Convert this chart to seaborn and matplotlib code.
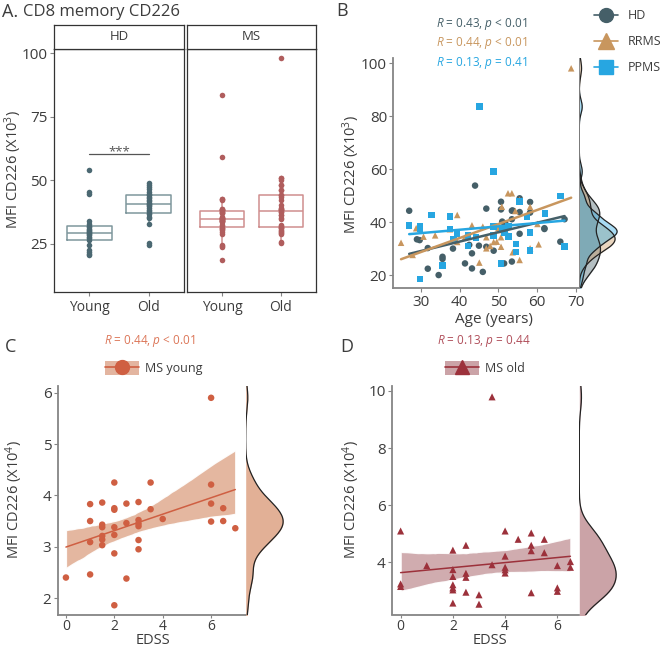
import numpy as np
import pandas as pd
import matplotlib
matplotlib.use('Agg')
import matplotlib.pyplot as plt
from matplotlib.lines import Line2D
from matplotlib.patches import Patch
import seaborn as sns

# ---- panel A : MFI (x10^3) per group / age class
hd_young = [54.0, 45.5, 44.5, 33.8, 33.0, 32.2, 31.5, 31.0, 30.5, 30.0, 29.6, 29.2, 28.8,
            28.3, 27.8, 27.2, 26.5, 24.5, 22.5, 21.8, 21.2, 20.6]
hd_old = [49.0, 48.2, 47.4, 46.5, 45.5, 44.8, 44.2, 43.6, 43.0, 42.4, 41.8, 41.2, 40.8,
          40.3, 39.7, 39.0, 38.4, 37.8, 37.2, 36.8, 35.5, 35.0, 32.8, 25.2, 24.6]
ms_young_extra = [83.5]  # MS young without EDSS

# ---- panel B : age vs MFI (x10^3)
hd_age = [27.0, 29.0, 29.7, 31.8, 31.8, 34.6, 35.6, 35.6, 38.3, 41.4, 42.5, 43.2, 43.2, 44.0,
          45.0, 46.0, 46.9, 46.9, 48.8, 50.7, 50.7, 51.0, 51.5, 51.8, 53.5, 53.5, 53.5, 53.7,
          55.5, 55.5, 55.5, 58.2, 58.2, 61.9, 61.9, 66.0, 67.1]
hd_mfi = [44.3, 33.5, 33.2, 30.2, 22.4, 20.0, 26.9, 26.1, 30.0, 24.4, 31.4, 22.5, 28.2, 53.8,
          31.1, 21.2, 45.1, 30.7, 29.2, 47.7, 44.8, 40.2, 24.4, 39.5, 44.3, 41.1, 25.1, 44.4,
          49.0, 43.8, 35.6, 47.6, 43.6, 37.7, 37.4, 32.6, 41.1]
rrms_age = [24.9, 27.9, 28.8, 30.7, 33.7, 37.5, 39.4, 39.4, 41.3, 43.2, 45.1, 46.0, 46.9, 46.9,
            47.9, 48.8, 49.6, 50.0, 50.5, 50.7, 50.7, 50.9, 52.5, 53.5, 52.6, 53.7, 54.4, 55.5,
            55.5, 58.2, 58.2, 60.1, 60.4, 68.8]
rrms_mfi = [32.2, 27.6, 37.7, 34.5, 35.0, 37.3, 42.7, 32.5, 34.1, 38.8, 24.7, 38.3, 34.3, 30.1,
            31.0, 32.5, 32.6, 37.7, 37.0, 34.3, 30.7, 45.8, 50.9, 50.9, 34.9, 28.6, 44.2, 48.4,
            25.7, 45.8, 30.1, 39.3, 31.6, 98.1]
ppms_age = [27.0, 29.8, 29.8, 29.8, 32.8, 35.6, 37.5, 37.5, 38.4, 39.4, 42.2, 42.2, 44.2, 45.1,
            48.8, 48.8, 48.8, 50.7, 51.0, 51.6, 52.6, 52.6, 54.6, 54.6, 55.5, 57.4, 58.2, 58.2,
            62.1, 62.1, 66.0, 67.1]
ppms_mfi = [38.7, 38.4, 37.4, 18.6, 42.6, 23.6, 42.1, 37.4, 33.5, 35.5, 31.0, 35.0, 34.1, 83.6,
            59.1, 38.3, 35.0, 24.4, 37.8, 36.1, 34.5, 38.3, 31.7, 28.8, 47.7, 41.9, 36.1, 29.2,
            43.3, 43.0, 49.9, 30.7]

# ---- panel C : MS young, EDSS vs MFI (x10^4)
ms_young_edss = [0, 1, 1, 1, 1, 1.5, 1.5, 1.5, 1.5, 1.5, 1.5, 2, 2, 2, 2, 2, 2, 2, 2.5, 2.5, 2.5,
                 3, 3, 3, 3, 3, 3, 3.5, 3.5, 4, 6, 6, 6, 6, 6.5, 6.5, 7]
ms_young_mfi = [2.40, 3.83, 3.50, 3.09, 2.46, 3.86, 3.43, 3.38, 3.21, 3.14, 3.03, 4.25, 3.75, 3.72,
                3.38, 3.23, 2.87, 1.86, 3.84, 3.46, 2.38, 3.87, 3.52, 3.45, 3.40, 3.13, 2.95, 4.25,
                3.73, 3.54, 5.90, 4.21, 3.84, 3.49, 3.75, 3.50, 3.36]

# ---- panel D : MS old, EDSS vs MFI (x10^4)
ms_old_edss = [0, 0, 0, 1, 2, 2, 2, 2, 2, 2, 2, 2.5, 2.5, 2.5, 2.5, 3, 3, 3.5, 3.5, 4, 4, 4, 4, 4,
               4.5, 5, 5, 5, 5, 5.5, 5.5, 6, 6, 6, 6.5, 6.5]
ms_old_mfi = [5.10, 3.25, 3.16, 3.89, 4.43, 3.75, 3.51, 3.22, 3.11, 3.04, 2.58, 4.60, 3.62, 3.48,
              2.96, 2.87, 2.54, 9.79, 3.92, 5.10, 4.22, 3.83, 3.74, 3.63, 4.81, 5.03, 4.60, 4.41,
              2.94, 4.81, 4.34, 3.89, 3.11, 2.99, 4.03, 3.83]

HD_C, RRMS_C, PPMS_C = '#455f68', '#c8965e', '#27a6e1'
YOUNG_C, YOUNG_BAND, YOUNG_TXT = '#cf5f42', '#e3b5a0', '#dc7658'
OLD_C, OLD_BAND, OLD_TXT = '#9c313b', '#cba3a7', '#b04e5a'
TXT = '#3c3c3c'
AX_C = '#858585'
TICK_FS = 11
XLAB_FS = 11
YLAB_FS = 10.5

sns.set_style('white')
plt.rcParams['font.family'] = ['Open Sans', 'DejaVu Sans']
plt.rcParams['mathtext.fontset'] = 'custom'
plt.rcParams['mathtext.it'] = 'Open Sans:italic'
plt.rcParams['mathtext.rm'] = 'Open Sans'
plt.rcParams['xtick.color'] = AX_C
plt.rcParams['ytick.color'] = AX_C
plt.rcParams['xtick.labelcolor'] = TXT
plt.rcParams['ytick.labelcolor'] = TXT

W, H = 662, 649
fig = plt.figure(figsize=(W / 100, H / 100), dpi=100)


def px_axes(x0, y0, x1, y1):
    return fig.add_axes([x0 / W, 1 - y1 / H, (x1 - x0) / W, (y1 - y0) / H])


def fy(y):
    return 1 - y / H


def ticks_style(ax):
    ax.tick_params(axis='both', which='both', length=3, width=0.8, labelsize=TICK_FS, pad=1.5,
                   bottom=True, left=True)


# ================= panel A =================
fig.text(2 / W, fy(12), 'A.', fontsize=13, color=TXT, va='center')
fig.text(23 / W, fy(12), 'CD8 memory CD226', fontsize=12, color=TXT, va='center')

dfa = pd.DataFrame({
    'group': ['HD'] * (len(hd_young) + len(hd_old))
             + ['MS'] * (len(ms_young_mfi) + len(ms_young_extra) + len(ms_old_mfi)),
    'age': ['Young'] * len(hd_young) + ['Old'] * len(hd_old)
           + ['Young'] * (len(ms_young_mfi) + len(ms_young_extra)) + ['Old'] * len(ms_old_mfi),
    'mfi': hd_young + hd_old + [v * 10 for v in ms_young_mfi] + ms_young_extra
           + [v * 10 for v in ms_old_mfi],
})

facets = [('HD', 54, 184, '#4b6872', '#7f979d'), ('MS', 187, 316, '#b05d5d', '#cf8e8e')]
for i, (name, x0, x1, pcol, bcol) in enumerate(facets):
    ax = px_axes(x0, 49, x1, 291.7)
    sub = dfa[dfa['group'] == name]
    sns.boxplot(data=sub, x='age', y='mfi', order=['Young', 'Old'], fill=False, color=bcol,
                width=0.75, showfliers=False, showcaps=False, linewidth=1.1, ax=ax)
    sns.stripplot(data=sub, x='age', y='mfi', order=['Young', 'Old'], jitter=False, color=pcol,
                  size=4, ax=ax)
    ax.set_xlim(-0.6, 1.6)
    ax.set_ylim(6.2, 101.6)
    ax.set_yticks([25, 50, 75, 100])
    ax.set_xlabel('')
    ax.set_ylabel('')
    ticks_style(ax)
    ax.tick_params(axis='x', labelsize=10, pad=3)
    if i > 0:
        ax.tick_params(axis='y', left=False, labelleft=False)
    for s in ax.spines.values():
        s.set_color('#333333')
        s.set_linewidth(0.9)
    if name == 'HD':
        ax.plot([0, 1], [60.4, 60.4], color='#555555', lw=0.9)
        ax.text(0.5, 61.3, '***', ha='center', va='center', fontsize=9.5, color='#555555')
    st = px_axes(x0, 25, x1, 49)
    st.set_xticks([])
    st.set_yticks([])
    for s in st.spines.values():
        s.set_color('#333333')
        s.set_linewidth(0.9)
    st.text(0.5, 0.5, name, ha='center', va='center', fontsize=9.5, color=TXT,
            transform=st.transAxes)

fig.text(13 / W, fy(170), 'MFI CD226 (X10$^{3}$)', rotation=90, fontsize=YLAB_FS, color=TXT,
         ha='center', va='center')

# ================= panel B =================
fig.text(336 / W, fy(11), 'B', fontsize=13, color=TXT, va='center')
dfb = pd.DataFrame({
    'age': hd_age + rrms_age + ppms_age,
    'mfi': hd_mfi + rrms_mfi + ppms_mfi,
    'group': ['HD'] * len(hd_age) + ['RRMS'] * len(rrms_age) + ['PPMS'] * len(ppms_age),
})
pal_b = {'HD': HD_C, 'RRMS': RRMS_C, 'PPMS': PPMS_C}
order_b = ['HD', 'RRMS', 'PPMS']
bw_b = {'HD': 0.85, 'RRMS': 0.5, 'PPMS': 0.45}

axb = px_axes(393.3, 58, 579.3, 288.3)
sns.scatterplot(data=dfb, x='age', y='mfi', hue='group', style='group', hue_order=order_b,
                style_order=order_b, markers={'HD': 'o', 'RRMS': '^', 'PPMS': 's'},
                palette=pal_b, s=22, edgecolor='none', legend=False, ax=axb)
for g in order_b:
    sub = dfb[dfb['group'] == g]
    sns.regplot(data=sub, x='age', y='mfi', scatter=False, ci=None, color=pal_b[g],
                line_kws={'lw': 1.8}, ax=axb)
axb.set_xlim(22.9, 70.9)
axb.set_ylim(15, 102)
axb.set_xticks([30, 40, 50, 60, 70])
axb.set_yticks([20, 40, 60, 80, 100])
axb.set_xlabel('')
axb.set_ylabel('')
ticks_style(axb)
sns.despine(ax=axb)
for s in ['left', 'bottom']:
    axb.spines[s].set_color(AX_C)
    axb.spines[s].set_linewidth(1.3)

axbm = px_axes(579.3, 58, 619, 288.3)
for g in order_b:
    sub = dfb[dfb['group'] == g]
    sns.kdeplot(data=sub, y='mfi', color=pal_b[g], fill=True, alpha=0.4, linewidth=0,
                bw_adjust=bw_b[g], ax=axbm)
    sns.kdeplot(data=sub, y='mfi', color='#222222', linewidth=0.9, bw_adjust=bw_b[g], ax=axbm)
axbm.set_ylim(15, 102)
axbm.set_xlim(left=0)
axbm.axis('off')
axbm.axvline(0, color=AX_C, lw=1.3)

r_texts = [('$R$ = 0.43, $p$ < 0.01', HD_C, 24), ('$R$ = 0.44, $p$ < 0.01', RRMS_C, 43),
           ('$R$ = 0.13, $p$ = 0.41', PPMS_C, 63)]
for t, c, y in r_texts:
    fig.text(482 / W, fy(y), t, color=c, fontsize=8.5, ha='center', va='center')

handles_b = [Line2D([], [], color=pal_b[g], marker=m, markersize=ms, lw=1.2)
             for g, m, ms in [('HD', 'o', 10), ('RRMS', '^', 12), ('PPMS', 's', 10)]]
fig.legend(handles=handles_b, labels=order_b, loc='upper left',
           bbox_to_anchor=(594 / W, fy(9)), frameon=False, fontsize=9, borderpad=0,
           borderaxespad=0, labelspacing=1.05, handlelength=1.9, handletextpad=0.8,
           labelcolor=TXT)

fig.text(494 / W, fy(323), 'Age (years)', fontsize=XLAB_FS, color=TXT, ha='center',
         va='baseline')
fig.text(351 / W, fy(175), 'MFI CD226 (X10$^{3}$)', rotation=90, fontsize=YLAB_FS, color=TXT,
         ha='center', va='center')


# ================= panels C / D =================
def edss_panel(x0, x1, xm1, edss, mfi, col, band, marker, msize, bw, xlim, ylim, yticks,
               xticks):
    ax = px_axes(x0, 386, x1, 614.5)
    sns.regplot(x=edss, y=mfi, scatter=False, ci=95, seed=3, color=col,
                line_kws={'lw': 1.1}, ax=ax)
    ax.collections[-1].set_facecolor(band)
    ax.collections[-1].set_alpha(0.9)
    sns.scatterplot(x=edss, y=mfi, color=col, marker=marker, s=msize, edgecolor='none', ax=ax)
    ax.set_xlim(*xlim)
    ax.set_ylim(*ylim)
    ax.set_yticks(yticks)
    ax.set_xticks(xticks)
    ticks_style(ax)
    ax.tick_params(axis='x', labelsize=10, pad=0.8, length=2.5)
    sns.despine(ax=ax)
    for s in ['left', 'bottom']:
        ax.spines[s].set_color(AX_C)
        ax.spines[s].set_linewidth(1.3)
    axm = px_axes(x1, 386, xm1, 614.5)
    sns.kdeplot(y=mfi, fill=True, color=band, alpha=1, linewidth=0, bw_adjust=bw, ax=axm)
    sns.kdeplot(y=mfi, color='#222222', linewidth=0.9, bw_adjust=bw, ax=axm)
    axm.set_ylim(*ylim)
    axm.set_xlim(left=0)
    axm.axis('off')
    return ax


edss_panel(57.7, 245.7, 285, ms_young_edss, ms_young_mfi, YOUNG_C, '#e2b096', 'o', 22, 0.75,
           (-0.34, 7.43), (1.68, 6.13), [2, 3, 4, 5, 6], [0, 2, 4, 6])
edss_panel(392, 579.3, 618, ms_old_edss, ms_old_mfi, OLD_C, OLD_BAND, '^', 26, 0.75,
           (-0.33, 6.84), (2.18, 10.17), [4, 6, 8, 10], [0, 2, 4, 6])

fig.text(5 / W, fy(347), 'C', fontsize=13, color=TXT, va='center')
fig.text(340 / W, fy(347), 'D', fontsize=13, color=TXT, va='center')
fig.text(150 / W, fy(340.7), '$R$ = 0.44, $p$ < 0.01', color=YOUNG_TXT, fontsize=8.5,
         ha='center', va='center')
fig.text(484 / W, fy(340.7), '$R$ = 0.13, $p$ = 0.44', color=OLD_TXT, fontsize=8.5,
         ha='center', va='center')

for x, lab, col, band, mk in [(105, 'MS young', YOUNG_C, YOUNG_BAND, 'o'),
                              (445, 'MS old', OLD_C, OLD_BAND, '^')]:
    h = (Patch(facecolor=band, edgecolor='none'),
         Line2D([], [], color=col, lw=1.2, marker=mk, markersize=10))
    fig.legend(handles=[h], labels=[lab], loc='center left',
               bbox_to_anchor=(x / W, fy(368)), frameon=False, fontsize=9, borderpad=0,
               borderaxespad=0, handlelength=2.7, handleheight=1.3, handletextpad=0.5,
               labelcolor=TXT)

fig.text(153 / W, fy(648.5), 'EDSS', fontsize=10.5, color=TXT, ha='center', va='bottom')
fig.text(490 / W, fy(648.5), 'EDSS', fontsize=10.5, color=TXT, ha='center', va='bottom')
fig.text(14 / W, fy(500), 'MFI CD226 (X10$^{4}$)', rotation=90, fontsize=YLAB_FS, color=TXT,
         ha='center', va='center')
fig.text(351 / W, fy(500), 'MFI CD226 (X10$^{4}$)', rotation=90, fontsize=YLAB_FS, color=TXT,
         ha='center', va='center')

fig.savefig('out.png', dpi=100)
